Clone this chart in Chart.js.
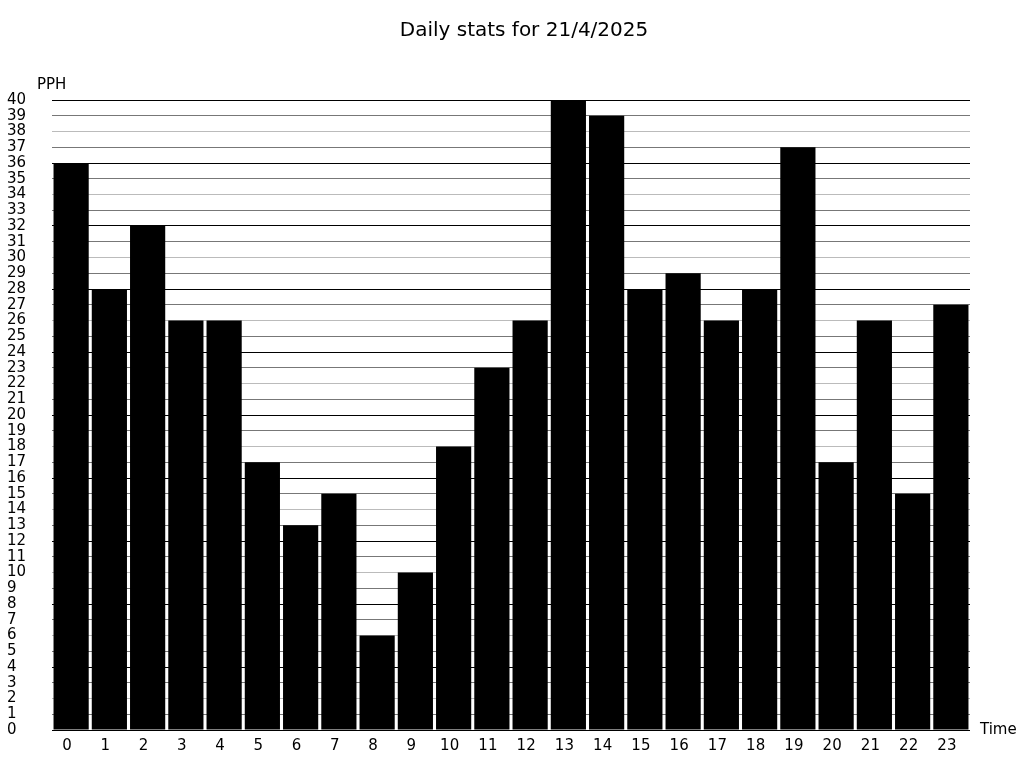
<!DOCTYPE html>
<html>
<head>
<meta charset="utf-8">
<script src="https://cdn.jsdelivr.net/npm/chart.js@4.4.1/dist/chart.umd.min.js"></script>
<style>
    html, body { margin: 0; padding: 0; background: #fff; }
    #wrap { width: 1024px; height: 768px; }
</style>
</head>
<body>
<div id="wrap"><canvas id="ChartDaily" width="1024" height="768"></canvas></div>
<script>

/// DADOS

const horas = ['0', '1', '2', '3', '4', '5', '6', '7', '8', '9', '10', '11',
    '12', '13', '14', '15', '16', '17', '18', '19', '20', '21', '22', '23'];

const pph = [36, 28, 32, 26, 26, 17, 13, 15, 6, 10, 18, 23,
    26, 40, 39, 28, 29, 26, 28, 37, 17, 26, 15, 27];

const titulo = 'Daily stats for 21/4/2025';
const eixo_y = 'PPH';
const eixo_x = 'Time';

const fonte = 'DejaVu Sans';


/// TÍTULO E TEXTOS DOS EIXOS (PPH / Time)

const textosEixos = {
    id: 'textosEixos',
    afterDraw(chart) {
        const c = chart.ctx;
        const area = chart.chartArea;
        c.save();
        c.fillStyle = '#000';
        c.textBaseline = 'middle';

        c.font = '20px "' + fonte + '"';
        c.textAlign = 'center';
        c.fillText(titulo, 524, 31);

        c.font = '15px "' + fonte + '"';
        c.textAlign = 'left';
        c.fillText(eixo_y, 37, 85);
        c.fillText(eixo_x, area.right + 10, area.bottom);
        c.restore();
    }
};


/// GRÁFICO

const chart_daily = document.getElementById('ChartDaily');

if (chart_daily) {

    new Chart(chart_daily, {
        type: 'bar',
        data: {
            labels: horas,
            datasets: [{
                label: '',
                data: pph,
                backgroundColor: '#000',
                borderWidth: 0,
                barPercentage: 0.92,
                categoryPercentage: 1
            }]
        },
        options: {
            responsive: false,
            animation: false,
            layout: {
                padding: { left: 7, right: 54, top: 100, bottom: 0 }
            },
            scales: {
                x: {
                    border: { display: false },
                    grid: { display: false, drawTicks: false },
                    ticks: {
                        color: '#000',
                        font: { family: fonte, size: 15 },
                        padding: 7,
                        labelOffset: -4,
                        maxRotation: 0,
                        autoSkip: false
                    },
                    afterFit(scale) { scale.height = 38; }
                },
                y: {
                    min: 0,
                    max: 40,
                    border: { display: false },
                    grid: {
                        drawTicks: false,
                        lineWidth: 1,
                        color(ctx) {
                            const v = ctx.tick ? ctx.tick.value : 0;
                            if (v % 4 === 0) return '#000';
                            if (v % 2 === 0) return '#bbbbbb';
                            return '#777777';
                        }
                    },
                    ticks: {
                        stepSize: 1,
                        autoSkip: false,
                        color: '#000',
                        crossAlign: 'far',
                        font: { family: fonte, size: 15 }
                    },
                    afterFit(scale) { scale.width = 45; }
                }
            },
            plugins: {
                legend: { display: false },
                tooltip: { enabled: false },
                title: { display: false }
            }
        },
        plugins: [textosEixos]
    });

}
</script>
</body>
</html>
